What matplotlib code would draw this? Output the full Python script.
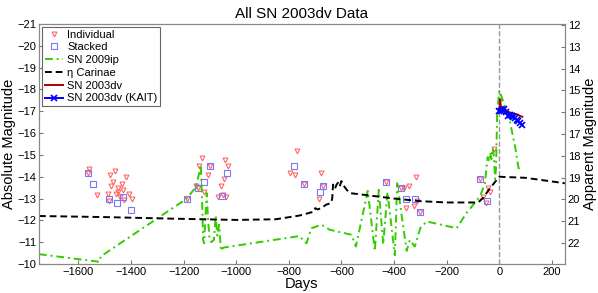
import numpy as np
import matplotlib
matplotlib.use("Agg")
import matplotlib.pyplot as plt

plt.rcParams['font.family'] = ['Liberation Sans', 'DejaVu Sans']

# individual epochs (days, absolute magnitude)
ind_days = [-1558, -1562, -1531, -1479, -1460, -1421, -1467, -1436, -1476, -1451,
            -1432, -1448, -1489, -1456, -1406, -1441, -1427, -1398, -1483, -1189,
            -1131, -1143, -1098, -1044, -1032, -1108, -1048, -1057, -1152, -1144,
            -1124, -1070, -1052, -1038, -770, -796, -778, -742, -679, -671, -686,
            -432, -318, -345, -364, -375, -312, -326, -355, -300,
            -73, -19, -43, -35, -61, -52]
ind_mags = [-14.37, -14.18, -13.18, -14.08, -14.27, -13.97, -13.77, -13.68, -13.56, -13.47,
            -13.38, -13.28, -13.19, -13.19, -13.19, -13.08, -12.95, -12.96, -12.87, -12.98,
            -14.87, -14.48, -14.48, -14.76, -14.48, -14.08, -13.90, -13.56, -13.59, -13.47,
            -13.28, -13.07, -13.18, -13.07, -15.17, -14.18, -14.08, -13.68, -14.18, -13.59, -12.98,
            -13.77, -13.97, -13.56, -13.47, -13.47, -12.89, -12.68, -12.58, -12.39,
            -13.90, -15.26, -13.47, -13.28, -13.08, -12.79]

# stacked epochs
stk_days = [-1562, -1545, -1482, -1429, -1455, -1402, -1189, -1098, -1035, -1123,
            -1144, -1053, -780, -742, -671, -682, -432, -375, -354, -320, -300, -73, -48]
stk_mags = [-14.18, -13.68, -12.99, -13.08, -12.79, -12.47, -12.98, -14.48, -14.18, -13.77,
            -13.47, -13.10, -14.48, -13.68, -13.59, -13.30, -13.77, -13.47, -12.98, -12.98,
            -12.39, -13.90, -12.89]

# SN 2009ip
g_days = [-1750, -1520, -1515, -1190, -1155, -1140, -1135, -1130, -1126, -1122,
          -1118, -1112, -1108, -1102, -1095, -1085, -1078, -1072, -1065, -1058,
          -1050, -760, -733, -714, -676, -660, -645, -562, -545, -500,
          -473, -458, -441, -425, -397, -388, -352, -340, -321, -300,
          -276, -162, -125, -73, -54, -48, -44, -38, -34, -30,
          -25, -20, -16, -12, -8, 0, 8, 15, 28, 41, 60, 72, 76]
g_mags = [-10.45, -10.10, -10.35, -12.98, -13.5, -14.2, -14.55, -13.0, -11.1, -10.95,
          -12.0, -13.25, -12.2, -11.2, -11.0, -11.1, -12.2, -11.3, -11.8, -10.6,
          -10.75, -11.28, -10.95, -11.64, -11.8, -11.69, -11.57, -11.34, -10.8, -13.35,
          -10.6, -13.4, -10.9, -13.3, -10.4, -13.7, -10.6, -11.1, -10.8, -11.65,
          -11.95, -11.64, -12.33, -13.1, -13.71, -14.48, -14.9, -14.7, -15.1, -14.8,
          -15.3, -14.9, -13.9, -14.4, -16.9, -17.95, -17.7, -17.45, -17.0, -16.5, -15.4, -14.5, -14.3]

# eta Carinae
eta_days = [-1750, -1500, -1250, -1000, -850, -760, -720, -705, -700, -690,
            -680, -670, -658, -640, -635, -632, -625, -618, -613, -607,
            -600, -592, -580, -568, -500, -400, -300, -200, -80, -60,
            -40, -20, 0, 100, 250]
eta_mags = [-12.20, -12.15, -12.08, -12.02, -12.05, -12.22, -12.35, -12.40, -12.56, -12.50,
            -12.55, -12.62, -12.72, -12.79, -13.0, -13.64, -13.45, -13.65, -13.72, -13.55,
            -13.8, -13.6, -13.4, -13.25, -13.15, -13.0, -12.88, -12.82, -12.82, -13.05,
            -13.4, -13.7, -14.0, -13.95, -13.7]

# SN 2003dv
dv_days = [0, 2, 4, 6, 10, 15, 22, 30, 40, 55, 70, 80, 88]
dv_mags = [-16.95, -17.3, -17.55, -17.1, -17.05, -17.2, -17.1, -17.0, -16.95, -16.9, -16.85, -16.78, -16.75]

# SN 2003dv (KAIT)
k_days = [0, 5, 12, 18, 25, 34, 40, 47, 53, 60, 66, 72, 80, 88]
k_mags = [-17.0, -17.0, -17.05, -17.1, -16.95, -16.8, -16.82, -16.78, -16.72, -16.7, -16.62, -16.55, -16.48, -16.37]

dist_mod = 32.96

fig = plt.figure(figsize=(5.98, 2.93), dpi=100)
ax = fig.add_axes([0.0652, 0.099, 0.8796, 0.819])

ax.axvline(0, color='#999999', ls='--', lw=1)
ax.plot(ind_days, ind_mags, 'v', mfc='none', mec='#ff6666', ms=3.5, mew=0.8, label='Individual')
ax.plot(stk_days, stk_mags, 's', mfc='none', mec='#7777ff', ms=4, mew=0.8, label='Stacked')
ax.plot(g_days, g_mags, color='#33cc00', lw=1.4, dashes=(4, 2, 1, 2), label='SN 2009ip')
ax.plot(eta_days, eta_mags, color='black', lw=1.4, dashes=(3.5, 2), label='η Carinae')
ax.plot(dv_days, dv_mags, '-', color='#aa0000', lw=1.4, label='SN 2003dv')
ax.plot(k_days, k_mags, '-x', color='#0000ff', lw=1.4, ms=5, mew=1.2, label='SN 2003dv (KAIT)')

ax.set_xlim(-1750, 250)
ax.set_ylim(-10, -21)
ax.set_xticks(np.arange(-1600, 201, 200))
ax.set_yticks(np.arange(-21, -9, 1))
ax.set_xlabel('Days', fontsize=10.5, labelpad=0)
ax.set_ylabel('Absolute Magnitude', fontsize=10.5, labelpad=1)
ax.set_title('All SN 2003dv Data', fontsize=11, pad=4)
ax.tick_params(direction='in', labelsize=8, length=3, color='#777777', pad=2)

ax2 = ax.twinx()
ax2.set_ylim(-10 + dist_mod, -21 + dist_mod)
ax2.set_yticks(np.arange(12, 23, 1))
ax2.set_ylabel('Apparent Magnitude', fontsize=10.5, labelpad=2)
ax2.tick_params(direction='in', labelsize=8, length=3, color='#777777', pad=2)

for a in (ax, ax2):
    for s in a.spines.values():
        s.set_color('#888888')

leg = ax.legend(loc='upper left', fontsize=8, handlelength=1.7, labelspacing=0.25,
                borderpad=0.25, handletextpad=0.35, fancybox=False, framealpha=1,
                edgecolor='#666666', borderaxespad=0.25)
leg.get_frame().set_linewidth(0.8)

fig.savefig('out.png', dpi=100)
